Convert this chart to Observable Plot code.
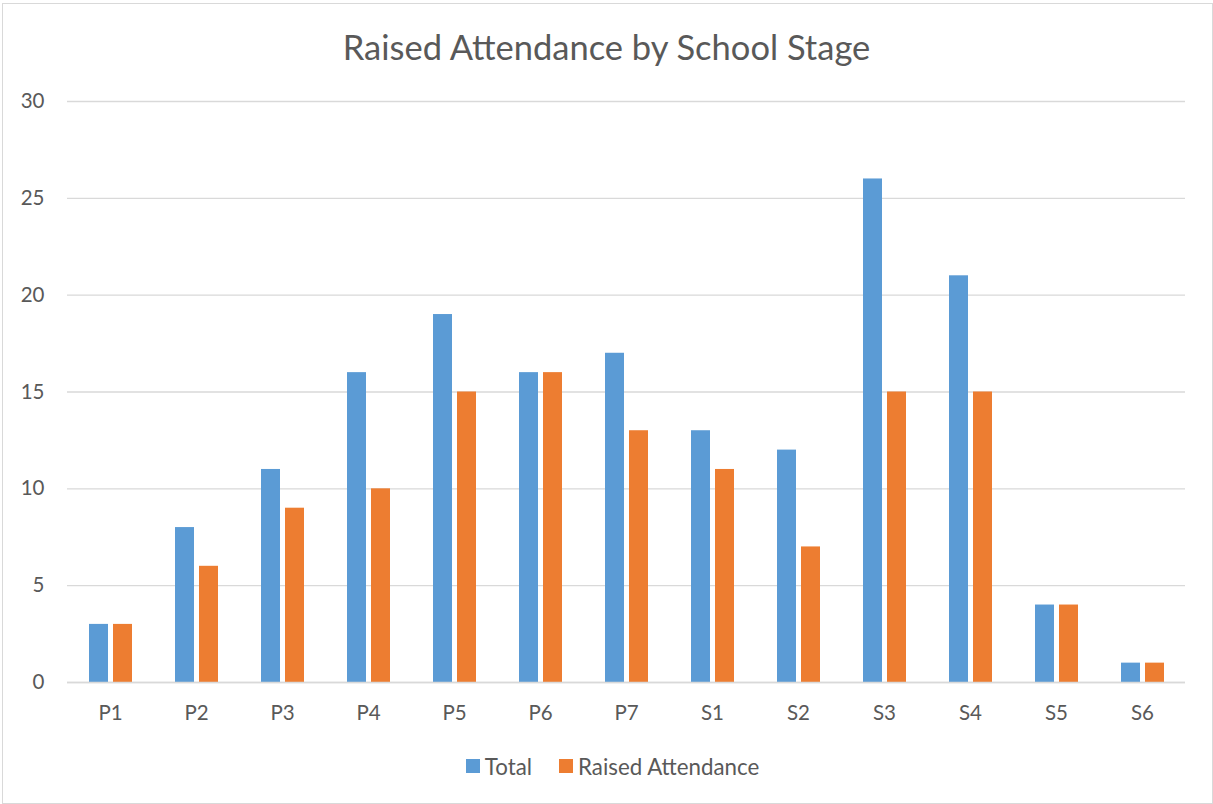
<!DOCTYPE html>
<html>
<head>
<meta charset="utf-8">
<script src="https://cdn.jsdelivr.net/npm/d3@7"></script>
<script src="https://cdn.jsdelivr.net/npm/@observablehq/plot@0.6"></script>
<style>
  html, body { margin: 0; padding: 0; background: #fff; }
  #chart {
    position: relative; width: 1213px; height: 804px; overflow: hidden;
    font-family: Lato, "Open Sans", sans-serif; color: #595959;
  }
  #frame {
    position: absolute; left: 2px; top: 3px; width: 1211px; height: 801px;
    box-sizing: border-box; border: 1px solid #d9d9d9;
  }
  #title {
    position: absolute; left: 0; top: 28px; width: 1213px; text-align: center;
    font-size: 34.5px; line-height: 38px;
  }
  #plot { position: absolute; left: 0; top: 80px; }
  #plot svg text { font-size: 20.5px; fill: #595959; }
  #legend {
    position: absolute; left: 6px; top: 753px; width: 1213px; height: 26px;
    display: flex; justify-content: center; align-items: center; gap: 27px;
    font-size: 22.3px;
  }
  .item { display: flex; align-items: center; gap: 5px; }
  .swatch { width: 14px; height: 14px; display: inline-block; }
</style>
</head>
<body>
<div id="chart">
  <div id="frame"></div>
  <div id="title">Raised Attendance by School Stage</div>
  <div id="plot"></div>
  <div id="legend"></div>
</div>
<script>
// School stages along the x axis
const stages = ["P1", "P2", "P3", "P4", "P5", "P6", "P7", "S1", "S2", "S3", "S4", "S5", "S6"];
// Series names and colours
const seriesNames = ["Total", "Raised Attendance"];
const seriesColors = ["#5b9bd5", "#ed7d31"];
// Pupil counts per stage
const totalValues = [3, 8, 11, 16, 19, 16, 17, 13, 12, 26, 21, 4, 1];
const raisedValues = [3, 6, 9, 10, 15, 16, 13, 11, 7, 15, 15, 4, 1];
// Value axis ticks
const yTicks = [0, 5, 10, 15, 20, 25, 30];

const rows = stages.flatMap((stage, i) => [
  {stage, series: seriesNames[0], value: totalValues[i]},
  {stage, series: seriesNames[1], value: raisedValues[i]}
]);

const chart = Plot.plot({
  width: 1213,
  height: 652,
  marginTop: 21,
  marginBottom: 50,
  marginLeft: 66,
  marginRight: 28,
  style: {fontFamily: "Lato, 'Open Sans', sans-serif", fontSize: "20px", color: "#595959", background: "transparent"},
  fx: {domain: stages, padding: 0, label: null, axis: "bottom", tickSize: 0, tickPadding: 23},
  x: {domain: seriesNames, paddingInner: 0.22, paddingOuter: 0.867, axis: null},
  y: {domain: [0, 30], ticks: yTicks, tickSize: 0, tickPadding: 23, label: null},
  color: {domain: seriesNames, range: seriesColors},
  marks: [
    Plot.ruleY(yTicks, {stroke: "#d9d9d9", strokeWidth: 1.3}),
    Plot.barY(rows, {fx: "stage", x: "series", y: "value", fill: "series"}),
    Plot.ruleY([0], {stroke: "#d9d9d9", strokeWidth: 1.5})
  ]
});
document.getElementById("plot").appendChild(chart);

// Legend
const legend = document.getElementById("legend");
seriesNames.forEach((name, i) => {
  const item = document.createElement("span");
  item.className = "item";
  const sw = document.createElement("span");
  sw.className = "swatch";
  sw.style.background = seriesColors[i];
  const label = document.createElement("span");
  label.textContent = name;
  item.appendChild(sw);
  item.appendChild(label);
  legend.appendChild(item);
});
</script>
</body>
</html>
